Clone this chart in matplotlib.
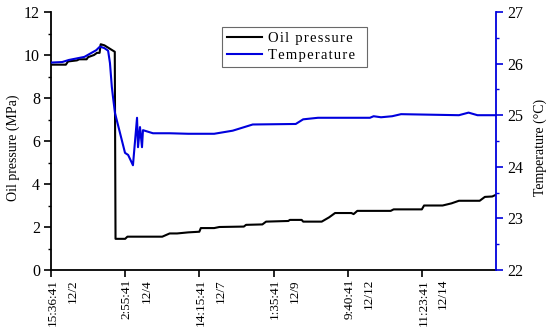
import numpy as np
import matplotlib
matplotlib.use("Agg")
import matplotlib.pyplot as plt
from matplotlib.ticker import MultipleLocator
from matplotlib.transforms import ScaledTranslation

plt.rcParams['font.family'] = ['Liberation Serif', 'DejaVu Serif']

# x = sample position (one unit per labelled tick)
tick_labels = ["15:36:41\n12/2", "2:55:41\n12/4", "14:15:41\n12/7",
               "1:35:41\n12/9", "9:40:41\n12/12", "11:23:41\n12/14"]

# oil pressure (MPa)
px = [0, 0.2, 0.23, 0.35, 0.38, 0.48, 0.5, 0.58, 0.62, 0.655, 0.67, 0.72, 0.86,
      0.87, 1.0, 1.03, 1.5, 1.6, 1.7, 1.85, 2.0, 2.02, 2.2, 2.27, 2.6, 2.63, 2.85,
      2.9, 3.2, 3.22, 3.38, 3.4, 3.65, 3.75, 3.83, 4.05, 4.08, 4.13, 4.58, 4.62,
      5.0, 5.03, 5.28, 5.4, 5.5, 5.78, 5.85, 5.95, 6.0]
py = [9.55, 9.55, 9.7, 9.75, 9.8, 9.8, 9.9, 10.0, 10.1, 10.1, 10.5, 10.45, 10.15,
      1.45, 1.45, 1.55, 1.55, 1.7, 1.7, 1.75, 1.78, 1.95, 1.95, 2.0, 2.02, 2.1, 2.12,
      2.25, 2.28, 2.33, 2.33, 2.25, 2.25, 2.45, 2.65, 2.65, 2.6, 2.75, 2.75, 2.82,
      2.82, 3.0, 3.0, 3.1, 3.22, 3.22, 3.4, 3.42, 3.5]

# temperature (C)
tx = [0, 0.15, 0.24, 0.45, 0.61, 0.66, 0.72, 0.77, 0.795, 0.82, 0.836, 0.863, 0.998,
      1.04, 1.105, 1.16, 1.173, 1.2, 1.227, 1.24, 1.375, 1.6, 1.85, 2.2,
      2.45, 2.72, 3.3, 3.4, 3.6, 4.3, 4.35, 4.45, 4.6, 4.72, 5.5, 5.63, 5.75, 6.0]
ty = [26.02, 26.03, 26.07, 26.13, 26.26, 26.33, 26.3, 26.25, 26.01, 25.55, 25.35,
      25.04, 24.27, 24.23, 24.03, 24.95, 24.38, 24.77, 24.38, 24.71, 24.65,
      24.65, 24.64, 24.64, 24.7, 24.82, 24.83, 24.92, 24.95, 24.95, 24.98, 24.96,
      24.98, 25.02, 25.0, 25.05, 25.0, 25.0]

fig = plt.figure(figsize=(5.5, 3.28), dpi=100)
ax = fig.add_axes([51/550, 58/328, 445/550, 258/328])
ax2 = ax.twinx()

l1, = ax.plot(px, py, color="black", lw=1.5, label="Oil pressure")
l2, = ax2.plot(tx, ty, color="#0000dd", lw=1.5, label="Temperature")

ax.set_xlim(0, 6)
ax.set_ylim(0, 12)
ax2.set_ylim(22, 27)

ax.set_xticks(range(len(tick_labels)))
ax.set_xticklabels(tick_labels, rotation=90, fontsize=9.5, linespacing=1.85,
                   multialignment='right')

ax.yaxis.set_major_locator(MultipleLocator(2))
ax.yaxis.set_minor_locator(MultipleLocator(1))
ax2.yaxis.set_major_locator(MultipleLocator(1))
ax2.yaxis.set_minor_locator(MultipleLocator(0.5))

for a in (ax, ax2):
    a.spines['top'].set_visible(False)
ax.spines['right'].set_visible(False)
ax2.spines['left'].set_visible(False)
ax2.spines['bottom'].set_visible(False)
ax.spines['left'].set_linewidth(1.3)
ax.spines['bottom'].set_linewidth(1.3)
ax2.spines['right'].set_color("#0000dd")
ax2.spines['right'].set_linewidth(1.3)

ax.tick_params(axis='x', which='major', direction='out', length=5, width=1.2, pad=1.5)
ax.tick_params(axis='y', which='major', direction='out', length=5, width=1.2,
               labelsize=11.5, pad=3)
ax.tick_params(axis='y', which='minor', direction='out', length=2.5, width=1)
ax2.tick_params(axis='y', which='major', direction='out', length=5, width=1.2,
                colors="#0000dd", labelcolor="black", labelsize=11.5, pad=3)
ax2.tick_params(axis='y', which='minor', direction='out', length=2.5, width=1,
                colors="#0000dd")

# date line sits to the right of the tick, time line centred on it
shift = ScaledTranslation(0.115, 0, fig.dpi_scale_trans)
for lab in ax.get_xticklabels():
    lab.set_transform(lab.get_transform() + shift)

ax.set_ylabel("Oil pressure (MPa)", fontsize=10)
ax2.set_ylabel("Temperature (°C)", fontsize=10)
ax.yaxis.set_label_coords(-0.07, 0.475)
ax2.yaxis.set_label_coords(1.085, 0.475)

sp = "\u200a"
leg = ax.legend([l1, l2], [sp.join("Oil pressure") + "  ", sp.join("Temperature") + "  "],
                loc='upper left', bbox_to_anchor=(0.385, 0.942), borderaxespad=0,
                fontsize=10.5, frameon=True, fancybox=False, borderpad=0.35,
                handlelength=2.4, handletextpad=0.35, labelspacing=0.25)
leg.get_frame().set_edgecolor("#444444")
leg.get_frame().set_linewidth(0.8)

fig.savefig("out.png", dpi=100)
